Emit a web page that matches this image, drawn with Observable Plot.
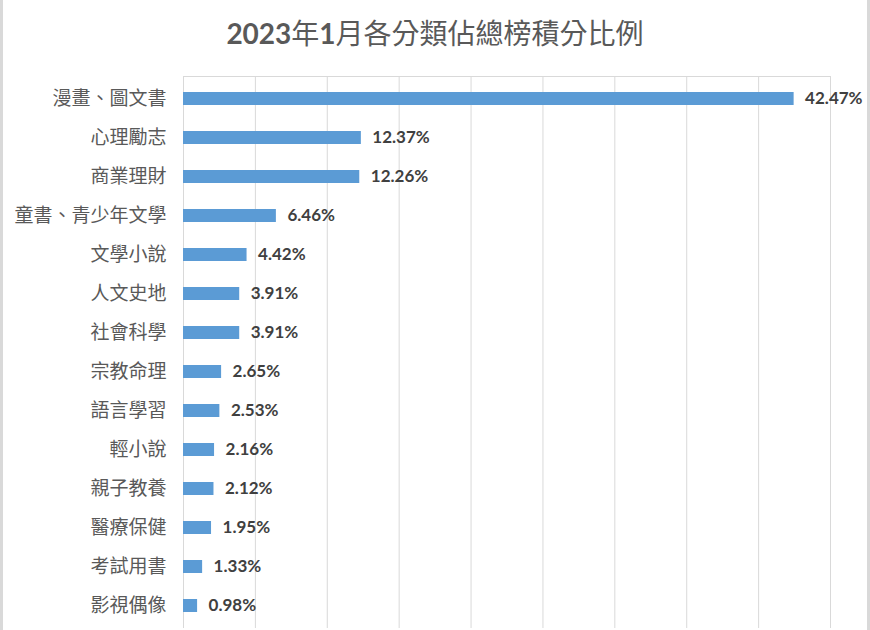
<!DOCTYPE html>
<html>
<head>
<meta charset="utf-8">
<script src="https://cdn.jsdelivr.net/npm/d3@7"></script>
<script src="https://cdn.jsdelivr.net/npm/@observablehq/plot@0.6"></script>
<style>
  html, body { margin: 0; padding: 0; background: #fff; }
  #wrap { position: relative; width: 870px; height: 630px; overflow: hidden; background: #fff; }
  #title { position: absolute; left: 0; top: 12px; width: 870px; text-align: center;
           font-family: "Noto Sans CJK TC", sans-serif; font-size: 28px; color: #595959; line-height: 40px; }
  #title b { font-family: Lato, "Noto Sans CJK TC", sans-serif; font-weight: 700; }
  #bl { position: absolute; left: 0; top: 0; width: 3px; height: 630px; background: #d9d9d9; }
  #br { position: absolute; right: 0; top: 0; width: 3px; height: 630px; background: #d9d9d9; }
  svg { position: absolute; left: 0; top: 0; }
</style>
</head>
<body>
<div id="wrap">
  <div id="title"><b>2023</b>年<b>1</b>月各分類佔總榜積分比例</div>
  <div id="bl"></div>
  <div id="br"></div>
</div>
<script>
const categories = ["漫畫、圖文書","心理勵志","商業理財","童書、青少年文學","文學小說","人文史地","社會科學","宗教命理","語言學習","輕小說","親子教養","醫療保健","考試用書","影視偶像"];
const shares = [42.47, 12.37, 12.26, 6.46, 4.42, 3.91, 3.91, 2.65, 2.53, 2.16, 2.12, 1.95, 1.33, 0.98];
const gridTicks = [0, 5, 10, 15, 20, 25, 30, 35, 40, 45];

const data = categories.map((c, i) => ({category: c, value: shares[i]}));

const chart = Plot.plot({
  width: 870,
  height: 630,
  marginTop: 76,
  marginBottom: 2,
  marginLeft: 183,
  marginRight: 40,
  style: {fontFamily: "'Noto Sans CJK TC', sans-serif", background: "transparent"},
  x: {domain: [0, 45], axis: null},
  y: {domain: categories, paddingInner: 0.67, paddingOuter: 0.335, label: null},
  marks: [
    Plot.ruleX(gridTicks, {stroke: "#d9d9d9", strokeWidth: 1}),
    Plot.frame({anchor: "top", stroke: "#d9d9d9"}),
    Plot.axisY({tickSize: 0, tickPadding: 17, fontSize: 19, color: "#595959", label: null}),
    Plot.barX(data, {x: "value", y: "category", fill: "#5b9bd5"}),
    Plot.text(data, {x: "value", y: "category", text: d => d.value.toFixed(2) + "%", textAnchor: "start", dx: 11,
      fontSize: 17, fontWeight: "bold", fill: "#404040", fontFamily: "Lato, sans-serif"})
  ]
});
document.getElementById("wrap").appendChild(chart);
</script>
</body>
</html>
